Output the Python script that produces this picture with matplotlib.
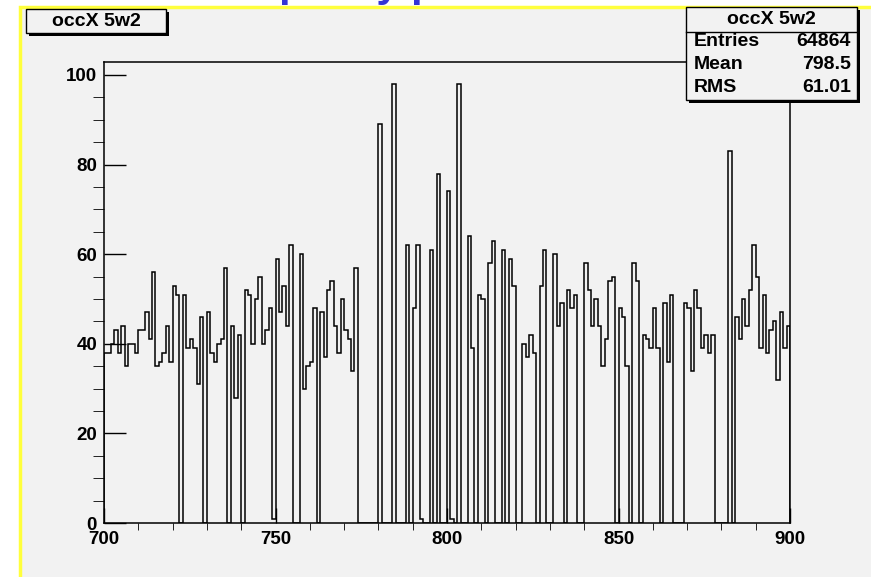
import numpy as np
import matplotlib
matplotlib.use('Agg')
import matplotlib.pyplot as plt
from matplotlib.patches import Rectangle
from matplotlib.ticker import MultipleLocator

W, H = 871, 577

HIST_NAME = 'occX 5w2'
TITLE = 'Occupancy plots'
X_RANGE = (700, 900)
# one count per 1-unit bin, 700..899
counts = [
    38, 38, 40, 43, 38, 44, 35, 40, 40, 38,
    43, 43, 47, 41, 56, 35, 36, 38, 44, 36,
    53, 51, 0, 51, 39, 41, 39, 31, 46, 0,
    47, 38, 36, 40, 41, 57, 0, 44, 28, 42,
    0, 52, 51, 40, 50, 55, 40, 43, 48, 1,
    59, 47, 53, 44, 62, 0, 0, 60, 30, 35,
    36, 48, 0, 47, 37, 52, 54, 44, 38, 50,
    43, 41, 34, 57, 0, 0, 0, 0, 0, 0,
    89, 0, 0, 0, 98, 0, 0, 0, 62, 0,
    48, 62, 1, 0, 0, 61, 0, 78, 0, 0,
    74, 1, 0, 98, 0, 0, 64, 39, 0, 51,
    50, 0, 58, 63, 0, 0, 61, 0, 59, 53,
    0, 0, 40, 37, 42, 38, 0, 53, 61, 0,
    0, 60, 44, 49, 0, 52, 48, 51, 0, 0,
    58, 52, 44, 50, 44, 35, 41, 54, 55, 0,
    48, 46, 35, 0, 58, 54, 0, 42, 41, 39,
    48, 39, 0, 49, 36, 51, 0, 0, 0, 49,
    48, 34, 52, 48, 39, 42, 38, 42, 0, 0,
    0, 0, 83, 0, 46, 41, 50, 44, 52, 62,
    55, 39, 51, 38, 43, 45, 32, 47, 39, 44,
]
stat_labels = ['Entries', 'Mean', 'RMS']
stat_values = ['64864', '798.5', '61.01']

PAD_GRAY = '#f2f2f2'
FONT = 'Liberation Sans'


def fx(px):
    return px / W


def fy(py):
    return 1 - py / H


def box(fig, x0, y0, x1, y1):
    # ROOT-style pave: shadow then framed box
    fig.add_artist(Rectangle((fx(x0 + 3), fy(y1 + 3)), fx(x1 - x0), (y1 - y0) / H,
                             transform=fig.transFigure, facecolor='black',
                             edgecolor='none', zorder=5))
    fig.add_artist(Rectangle((fx(x0), fy(y1)), fx(x1 - x0), (y1 - y0) / H,
                             transform=fig.transFigure, facecolor=PAD_GRAY,
                             edgecolor='black', lw=1.0, zorder=6))


fig = plt.figure(figsize=(W / 100, H / 100), dpi=100, facecolor='white')

# gray pad with yellow border on the visible top/left sides
fig.add_artist(Rectangle((fx(20), -0.1), 1.2, fy(7) + 0.1,
                         transform=fig.transFigure, facecolor=PAD_GRAY,
                         edgecolor='#ffff3c', lw=2.5, zorder=0))

fig.text(fx(175), fy(-4), TITLE, color='#3535d6', fontsize=30,
         fontweight='bold', family=FONT, va='baseline', ha='left', zorder=1)

ax = fig.add_axes([fx(104), fy(523), fx(790 - 104), (523 - 62) / H])
ax.set_facecolor(PAD_GRAY)

edges = np.linspace(X_RANGE[0], X_RANGE[1], len(counts) + 1)
ax.stairs(counts, edges, color='black', lw=1.1, baseline=0)

ax.set_xlim(*X_RANGE)
ax.set_ylim(0, 1.05 * max(counts))
for s in ax.spines.values():
    s.set_linewidth(1.1)

ax.xaxis.set_major_locator(MultipleLocator(50))
ax.xaxis.set_minor_locator(MultipleLocator(10))
ax.yaxis.set_major_locator(MultipleLocator(20))
ax.yaxis.set_minor_locator(MultipleLocator(5))
ax.tick_params(direction='in', width=1.0, top=False, right=False)
ax.tick_params(axis='x', which='major', length=10.8, pad=6)
ax.tick_params(axis='x', which='minor', length=5)
ax.tick_params(axis='y', which='major', length=15.8, pad=5)
ax.tick_params(axis='y', which='minor', length=7.9)
for lab in ax.get_xticklabels() + ax.get_yticklabels():
    lab.set_fontsize(13.5)
    lab.set_fontweight('bold')
    lab.set_family(FONT)

# title pave at top left
box(fig, 26, 9, 166, 33)
fig.text(fx(96), fy(21), HIST_NAME, fontsize=14, fontweight='bold',
         family=FONT, ha='center', va='center', zorder=7)

# statistics box (sticks out past the frame, as ROOT puts it at 0.98 of the pad)
sx0, sy0, sx1, sy1 = 686, 7, 857, 100
box(fig, sx0, sy0, sx1, sy1)
fig.add_artist(plt.Line2D([fx(sx0), fx(sx1)], [fy(32), fy(32)],
                          transform=fig.transFigure, color='black', lw=1.0,
                          zorder=7))
fig.text(fx((sx0 + sx1) / 2), fy(19), HIST_NAME, fontsize=14,
         fontweight='bold', family=FONT, ha='center', va='center', zorder=7)
for i, (lab, val) in enumerate(zip(stat_labels, stat_values)):
    y = fy(42 + 22.5 * i)
    fig.text(fx(sx0 + 8), y, lab, fontsize=14, fontweight='bold',
             family=FONT, ha='left', va='center', zorder=7)
    fig.text(fx(sx1 - 6), y, val, fontsize=14, fontweight='bold',
             family=FONT, ha='right', va='center', zorder=7)

fig.savefig('out.png', dpi=100, facecolor='white')
